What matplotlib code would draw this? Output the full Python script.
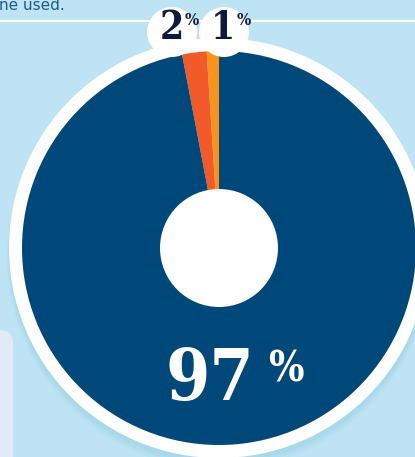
import matplotlib.pyplot as plt
from matplotlib.patches import Circle, FancyBboxPatch

# figure is 415x457 px, everything below is laid out in pixel units (y measured from top)
W, H = 415, 457

shares = [1, 2, 97]
share_labels = ['1', '2', '97']
slice_colors = ['#f7941d', '#f15a29', '#00487a']

bg = '#bde3f4'
navy = '#0f1b3d'


def py(y):
    # pixel row from top -> data y
    return H - y


fig = plt.figure(figsize=(W / 100, H / 100), dpi=100)
fig.patch.set_facecolor(bg)
ax = fig.add_axes([0, 0, 1, 1])
ax.set_facecolor(bg)

cx, cy = 219, 248
r_pie = 197
r_ring = 210
r_hole = 59

# soft shadow under the ring (mostly visible at the bottom)
for r, dy, a in [(212, 9, 0.10), (211, 7, 0.14), (210, 5, 0.18)]:
    ax.add_patch(Circle((cx, py(cy + dy)), r, color='#86c9e0', alpha=a, lw=0, zorder=1))

# white ring
ax.add_patch(Circle((cx, py(cy)), r_ring, color='white', lw=0, zorder=2))

ax.pie(shares, colors=slice_colors, startangle=90, counterclock=True,
       center=(cx, py(cy)), radius=r_pie,
       wedgeprops=dict(linewidth=0, zorder=3))

# hole
ax.add_patch(Circle((cx, py(cy)), r_hole, color='white', lw=0, zorder=5))

# divider line and text fragment at top
ax.plot([0, W], [py(21), py(21)], color='white', lw=1.5, zorder=1.5)
ax.text(-1, py(10), 'ne used.', ha='left', va='baseline', fontsize=11,
        color='#1d5a8f', zorder=2)

# photo fragment bottom left
ax.add_patch(FancyBboxPatch((-30, py(480)), 43, 150,
                            boxstyle='round,pad=0,rounding_size=14',
                            fc='#e2ebf5', ec='none', zorder=1.2))

# label bubbles
for bx in (172, 224):
    ax.add_patch(Circle((bx, py(32)), 25, color='white', lw=0, zorder=6))

serif = dict(family='DejaVu Serif', weight='bold', stretch='condensed')
ax.text(184, py(39), share_labels[1], ha='right', va='baseline', fontsize=28,
        color=navy, zorder=7, **serif)
ax.text(185, py(25), '%', ha='left', va='baseline', fontsize=12,
        color=navy, zorder=7, **serif)
ax.text(235, py(39), share_labels[0], ha='right', va='baseline', fontsize=28,
        color=navy, zorder=7, **serif)
ax.text(237, py(25), '%', ha='left', va='baseline', fontsize=12,
        color=navy, zorder=7, **serif)

ax.text(254, py(400), share_labels[2], ha='right', va='baseline', fontsize=51,
        color='white', zorder=7, **serif)
ax.text(268, py(381), '%', ha='left', va='baseline', fontsize=30,
        color='white', zorder=7, **serif)

ax.set_xlim(0, W)
ax.set_ylim(0, H)
ax.set_aspect('equal')
ax.axis('off')

fig.savefig('out.png', dpi=100, facecolor=bg)
